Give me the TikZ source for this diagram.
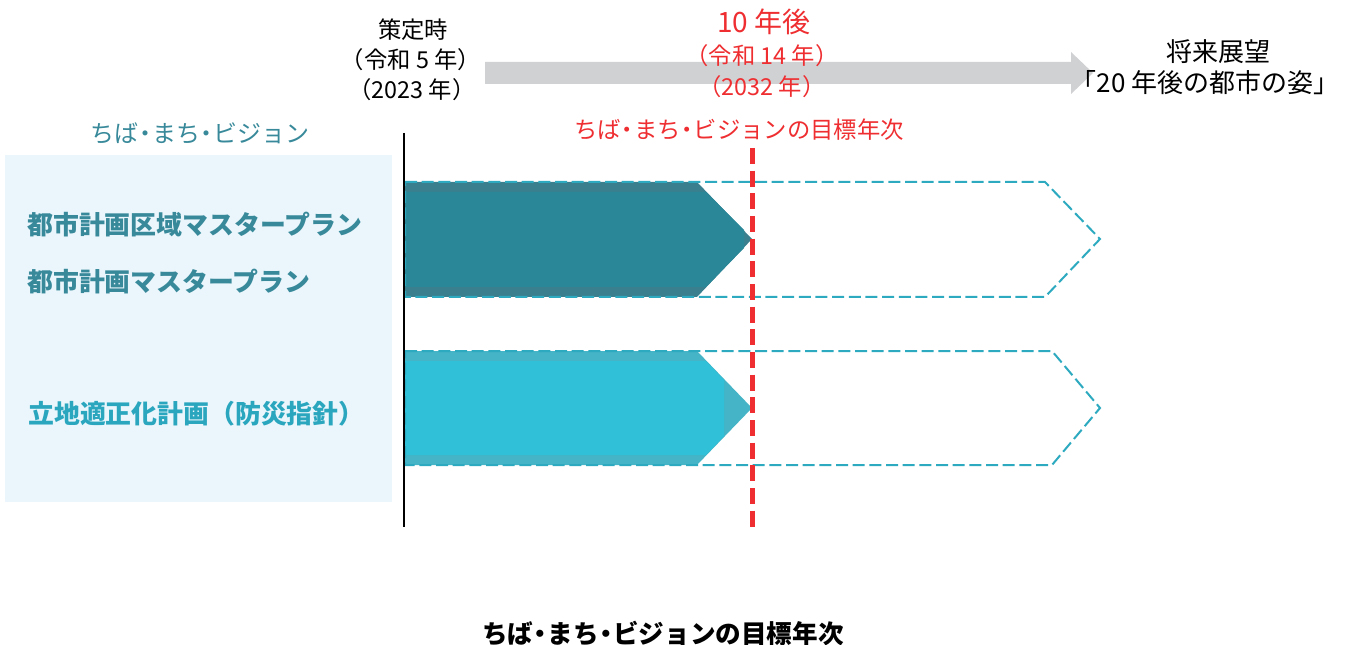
\documentclass[tikz,border=0pt]{standalone}
\usepackage{fontspec}
\setmainfont{Noto Sans CJK JP}
\usetikzlibrary{calc}
\definecolor{tealdark}{HTML}{2A8797}
\definecolor{tealband}{HTML}{3A7F8E}
\definecolor{cyanfill}{HTML}{30C0D8}
\definecolor{cyanband}{HTML}{44B4C6}
\definecolor{dashteal}{HTML}{2EAAC0}
\definecolor{redline}{HTML}{EE2E31}
\definecolor{graybar}{HTML}{D0D1D3}
\definecolor{panelblue}{HTML}{EAF6FC}
\definecolor{labteal}{HTML}{38899A}
\definecolor{labcyan}{HTML}{2AA6BE}
\newcommand{\ndot}{\hspace{-0.22em}・\hspace{-0.22em}}
\tikzset{
  lbl/.style={inner sep=0pt, anchor=center},
  blacktxt/.style={lbl, text=black, font=\fontsize{17.5}{19}\selectfont},
  redtxt/.style={lbl, text=redline, font=\fontsize{17.5}{19}\selectfont},
  plantxt/.style={lbl, anchor=west, font=\bfseries\fontsize{19.4}{21}\selectfont},
  outline/.style={draw=dashteal, line width=1.5pt, dash pattern=on 9pt off 3.5pt},
}
\begin{document}
\begin{tikzpicture}[x=0.75pt,y=-0.75pt]
\useasboundingbox (0,0) rectangle (1349,645);
% left panel
\fill[panelblue] (5,155) rectangle (392,502);
% gray timeline arrow
\fill[graybar] (485,62) -- (1071,62) -- (1071,52) -- (1093,73) -- (1071,94) -- (1071,84) -- (485,84) -- cycle;
% top bar
\fill[tealband] (405,182) -- (697,182) -- (752,239) -- (697,297) -- (405,297) -- cycle;
\fill[tealdark] (405,192) -- (706,192) -- (744,230) -- (744,248) -- (706,287) -- (405,287) -- cycle;
\draw[outline] (405,182) -- (1045,182) -- (1100,239) -- (1045,297) -- (405,297) -- cycle;
% bottom bar
\fill[cyanband] (405,351) -- (697,351) -- (752,408) -- (697,465) -- (405,465) -- cycle;
\fill[cyanfill] (405,361) -- (706,361) -- (724,380) -- (724,436) -- (706,455) -- (405,455) -- cycle;
\draw[outline] (405,351) -- (1052,351) -- (1100,408) -- (1052,465) -- (405,465) -- cycle;
% vertical lines
\coordinate (st) at (404,133);
\coordinate (sb) at (404,527);
\draw[black, line width=0.9pt] (st) -- (sb);
\coordinate (rt) at (752,148);
\coordinate (rb) at (752,527);
\draw[redline, line width=3.75pt, dash pattern=on 12pt off 5pt] (rt) -- (rb);
% timeline labels
\node[blacktxt] (t1) at (413,30) {策定時};
\node[blacktxt] (t2) at (411,60) {（令和 5 年）};
\node[blacktxt] (t3) at (412,90) {（2023 年）};
\node[redtxt, font=\fontsize{21}{23}\selectfont] (r1) at (764,22) {10 年後};
\node[redtxt] (r2) at (762,56) {（令和 14 年）};
\node[redtxt] (r3) at (762,87) {（2032 年）};
\node[blacktxt, font=\fontsize{19.5}{21}\selectfont] (f1) at (1218,52) {将来展望};
\node[blacktxt, font=\fontsize{19.5}{21}\selectfont] (f2) at (1205,83) {「20 年後の都市の姿」};
% headings
\node[lbl, text=labteal, font=\fontsize{18}{20}\selectfont] (cv) at (200,133) {ちば\ndot まち\ndot ビジョン};
\node[redtxt, font=\fontsize{17.5}{19}\selectfont] (goal) at (739,130) {ちば\ndot まち\ndot ビジョンの目標年次};
% plan labels
\node[plantxt, text=labteal] (p1) at (27,225) {都市計画区域マスタープラン};
\node[plantxt, text=labteal] (p2) at (27,282) {都市計画マスタープラン};
\node[plantxt, text=labcyan] (p3) at (28,414) {立地適正化計画（防災指針）};
% caption
\node[lbl, text=black, font=\bfseries\fontsize{19.2}{21}\selectfont] (cap) at (663,634) {ちば\ndot まち\ndot ビジョンの目標年次};
\end{tikzpicture}
\end{document}
